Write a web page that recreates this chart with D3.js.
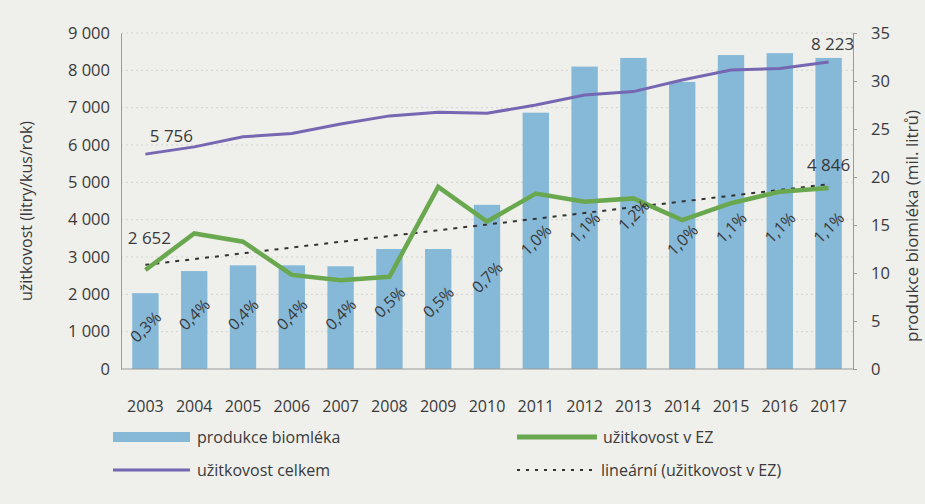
<!DOCTYPE html>
<html>
<head>
<meta charset="utf-8">
<script src="https://cdn.jsdelivr.net/npm/d3@7"></script>
<style>
  body { margin: 0; background: #efefec; }
  text { font-family: 'Open Sans', sans-serif; fill: #3a3a3a; }
  .axis path, .axis line { stroke: #9a9a9a; }
</style>
</head>
<body>
<div id="chart"></div>
<script>
// data
const years = ['2003', '2004', '2005', '2006', '2007', '2008', '2009', '2010',
  '2011', '2012', '2013', '2014', '2015', '2016', '2017'];
// produkce biomléka (mil. litrů)
const produkce = [7.9, 10.2, 10.8, 10.8, 10.7, 12.5, 12.5, 17.1, 26.7, 31.5, 32.4, 29.9, 32.7, 32.9, 32.4];
// užitkovost celkem (litry/kus/rok)
const celkem = [5756, 5950, 6220, 6310, 6560, 6780, 6880, 6850, 7070, 7340, 7430, 7740, 8010, 8050, 8223];
// užitkovost v EZ
const ez = [2652, 3630, 3410, 2520, 2380, 2470, 4880, 3950, 4700, 4480, 4570, 3990, 4440, 4750, 4846];
// podíl (%)
const podil = [0.3, 0.4, 0.4, 0.4, 0.4, 0.5, 0.5, 0.7, 1.0, 1.1, 1.2, 1.0, 1.1, 1.1, 1.1];
// lineární trend (endpoints)
const trendYears = ['2003', '2017'];
const trendValues = [2790, 4950];
const leftTicks = [0, 1000, 2000, 3000, 4000, 5000, 6000, 7000, 8000, 9000];
const rightTicks = [0, 5, 10, 15, 20, 25, 30, 35];

const W = 925, H = 504;
const m = {left: 121, right: 853, top: 33, bottom: 369};

const svg = d3.select('#chart').append('svg')
  .attr('width', W)
  .attr('height', H);

const x = d3.scaleBand()
  .domain(years)
  .range([m.left, m.right])
  .paddingInner(0.46)
  .paddingOuter(0.23);
const xc = d => x(d) + x.bandwidth() / 2;

const yL = d3.scaleLinear().domain([0, 9000]).range([m.bottom, m.top]);
const yR = d3.scaleLinear().domain([0, 35]).range([m.bottom, m.top]);
// vertical placement of the share labels
const yP = d3.scaleLinear().domain([0, 1.2]).range([364, 215]);

const fmt = v => d3.format(',')(v).replace(/,/g, ' ');

// gridlines
svg.append('g')
  .selectAll('line')
  .data(leftTicks.slice(1))
  .join('line')
  .attr('x1', m.left).attr('x2', m.right)
  .attr('y1', d => yL(d)).attr('y2', d => yL(d))
  .attr('stroke', '#c9c9c6')
  .attr('stroke-width', 0.7)
  .attr('stroke-dasharray', '2,3');

// bars
svg.append('g')
  .selectAll('rect')
  .data(produkce)
  .join('rect')
  .attr('x', (d, i) => x(years[i]))
  .attr('y', d => yR(d))
  .attr('width', x.bandwidth())
  .attr('height', d => m.bottom - yR(d))
  .attr('fill', '#86b8d7');

// axes
svg.append('g')
  .attr('class', 'axis')
  .attr('transform', `translate(${m.left},0)`)
  .call(d3.axisLeft(yL).tickValues(leftTicks).tickFormat(fmt).tickSize(0).tickPadding(11))
  .call(g => g.selectAll('text').attr('font-size', '16.5px').attr('font-family', "'Open Sans', sans-serif").attr('fill', '#3a3a3a'));

svg.append('g')
  .attr('class', 'axis')
  .attr('transform', `translate(${m.right},0)`)
  .call(d3.axisRight(yR).tickValues(rightTicks).tickSizeInner(4).tickSizeOuter(0).tickPadding(14))
  .call(g => g.selectAll('text').attr('font-size', '16.5px').attr('font-family', "'Open Sans', sans-serif").attr('fill', '#3a3a3a'));

svg.append('g')
  .attr('class', 'axis')
  .attr('transform', `translate(0,${m.bottom})`)
  .call(d3.axisBottom(x).tickSize(0).tickPadding(32))
  .call(g => g.select('.domain').attr('d', `M${m.left},0H${m.right}`))
  .call(g => g.selectAll('text').attr('font-size', '16px').attr('font-family', "'Open Sans', sans-serif").attr('fill', '#3a3a3a'));

// trend line
const line = d3.line().x(d => xc(d[0])).y(d => yL(d[1]));
svg.append('path')
  .datum(trendYears.map((d, i) => [d, trendValues[i]]))
  .attr('d', line)
  .attr('fill', 'none')
  .attr('stroke', '#333')
  .attr('stroke-width', 2)
  .attr('stroke-dasharray', '4,6');

// užitkovost celkem
svg.append('path')
  .datum(years.map((d, i) => [d, celkem[i]]))
  .attr('d', line)
  .attr('fill', 'none')
  .attr('stroke', '#7567b2')
  .attr('stroke-width', 3);

// užitkovost v EZ
svg.append('path')
  .datum(years.map((d, i) => [d, ez[i]]))
  .attr('d', line)
  .attr('fill', 'none')
  .attr('stroke', '#6aa84f')
  .attr('stroke-width', 4.5);

// share labels
svg.append('g')
  .selectAll('text')
  .data(podil)
  .join('text')
  .attr('transform', (d, i) => `translate(${xc(years[i])},${yP(d)}) rotate(-45)`)
  .attr('text-anchor', 'middle')
  .attr('dominant-baseline', 'central')
  .attr('font-size', '16px')
  .text(d => d.toFixed(1).replace('.', ',') + '%');

// value annotations
const notes = [
  {t: fmt(celkem[0]), x: xc(years[0]) + 26, y: yL(celkem[0]) - 12},
  {t: fmt(ez[0]), x: xc(years[0]) + 4, y: yL(ez[0]) - 26},
  {t: fmt(celkem[14]), x: xc(years[14]) + 4, y: yL(celkem[14]) - 12},
  {t: fmt(ez[14]), x: xc(years[14]), y: yL(ez[14]) - 17}
];
svg.append('g')
  .selectAll('text')
  .data(notes)
  .join('text')
  .attr('x', d => d.x)
  .attr('y', d => d.y)
  .attr('text-anchor', 'middle')
  .attr('font-size', '17px')
  .text(d => d.t);

// axis titles
svg.append('text')
  .attr('transform', `translate(32,${(m.top + m.bottom) / 2 + 10}) rotate(-90)`)
  .attr('text-anchor', 'middle')
  .attr('font-size', '16px')
  .text('užitkovost (litry/kus/rok)');

svg.append('text')
  .attr('transform', `translate(918,226) rotate(-90)`)
  .attr('text-anchor', 'middle')
  .attr('font-size', '17px')
  .text('produkce biomléka (mil. litrů)');

// legend
const lg = svg.append('g').attr('font-size', '16px');
lg.append('rect').attr('x', 113).attr('y', 432).attr('width', 77).attr('height', 10).attr('fill', '#86b8d7');
lg.append('text').attr('x', 197).attr('y', 443).text('produkce biomléka');
lg.append('line').attr('x1', 113).attr('x2', 190).attr('y1', 470).attr('y2', 470)
  .attr('stroke', '#7567b2').attr('stroke-width', 3);
lg.append('text').attr('x', 197).attr('y', 476).text('užitkovost celkem');
lg.append('line').attr('x1', 517).attr('x2', 597).attr('y1', 437).attr('y2', 437)
  .attr('stroke', '#6aa84f').attr('stroke-width', 5);
lg.append('text').attr('x', 603).attr('y', 443).text('užitkovost v EZ');
lg.append('line').attr('x1', 517).attr('x2', 592).attr('y1', 470).attr('y2', 470)
  .attr('stroke', '#333').attr('stroke-width', 2).attr('stroke-dasharray', '3,6');
lg.append('text').attr('x', 601).attr('y', 476).text('lineární (užitkovost v EZ)');
</script>
</body>
</html>
